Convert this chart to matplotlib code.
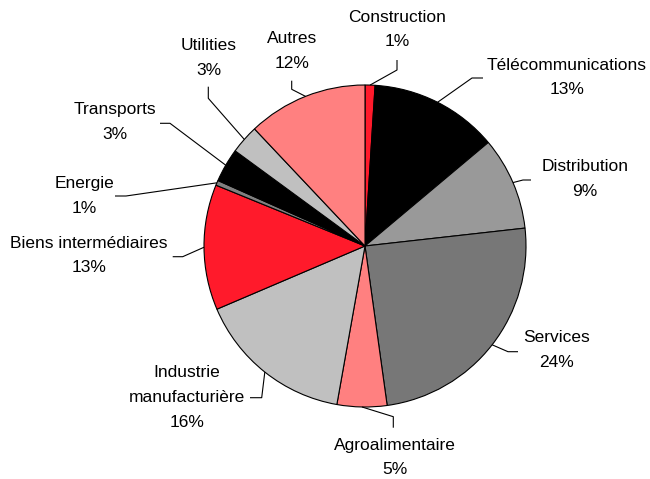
import numpy as np
import matplotlib
matplotlib.use('Agg')
import matplotlib.pyplot as plt

plt.rcParams['font.family'] = ['Liberation Sans', 'DejaVu Sans']

# sector shares (%), clockwise from 12 o'clock
sectors = ['Construction', 'Télécommunications', 'Distribution', 'Services',
           'Agroalimentaire', 'Industrie\nmanufacturière', 'Biens intermédiaires',
           'Energie', 'Transports', 'Utilities', 'Autres']
shares = [1.0, 12.9, 9.35, 24.6, 5.0, 15.8, 12.6, 0.5, 3.4, 2.9, 12.05]
pct_text = ['1%', '13%', '9%', '24%', '5%', '16%', '13%', '1%', '3%', '3%', '12%']
colors = ['#FF1A2B', '#000000', '#999999', '#777777', '#FF8080', '#C0C0C0',
          '#FF1A2B', '#808080', '#000000', '#C0C0C0', '#FF8080']

# layout (pixels of the 650x479 image)
W, H = 650, 479
CX, CY, R = 365, 246, 161
label_pos = [(397, 29.5), (567, 77.5), (585, 179), (557, 350), (395, 457.5),
             (187, 397.5), (89, 255.3), (84, 196), (115, 122), (209, 58),
             (292, 51)]
leader_pts = [[(397, 60), (397, 70)],
              [(483, 78), (472, 78)],
              [(531, 180), (523, 180)],
              [(518, 351.7), (508, 351.7)],
              [(393.3, 427.7), (393.3, 416.7)],
              [(250, 397.7), (261.7, 397.7)],
              [(172.7, 256.7), (182.7, 256.7)],
              [(115, 196), (126, 196)],
              [(160, 123.3), (170, 123.3)],
              [(208.3, 86.7), (208.3, 98.3)],
              [(291.7, 80.7), (291.7, 89.3)]]


def px(x, y):
    return (x - CX) / R, (CY - y) / R


fig = plt.figure(figsize=(W / 100, H / 100), dpi=100)
ax = fig.add_axes([0, 0, 1, 1])
wedges, _ = ax.pie(shares, colors=colors, startangle=90, counterclock=False,
                   radius=1, center=(0, 0),
                   wedgeprops=dict(edgecolor='black', linewidth=0.8))
ax.set_xlim(-CX / R, (W - CX) / R)
ax.set_ylim(-(H - CY) / R, CY / R)
ax.set_aspect('equal')
ax.set_axis_off()

for w, name, pct, pos, pts in zip(wedges, sectors, pct_text, label_pos, leader_pts):
    mid = np.deg2rad((w.theta1 + w.theta2) / 2)
    line = [px(*p) for p in pts] + [(np.cos(mid), np.sin(mid))]
    xs, ys = zip(*line)
    ax.plot(xs, ys, color='black', lw=0.8, solid_capstyle='butt')
    tx, ty = px(*pos)
    ax.text(tx, ty, name + '\n' + pct, ha='center', va='center',
            fontsize=12.5, linespacing=1.8, color='black')

fig.savefig('out.png', dpi=100)
